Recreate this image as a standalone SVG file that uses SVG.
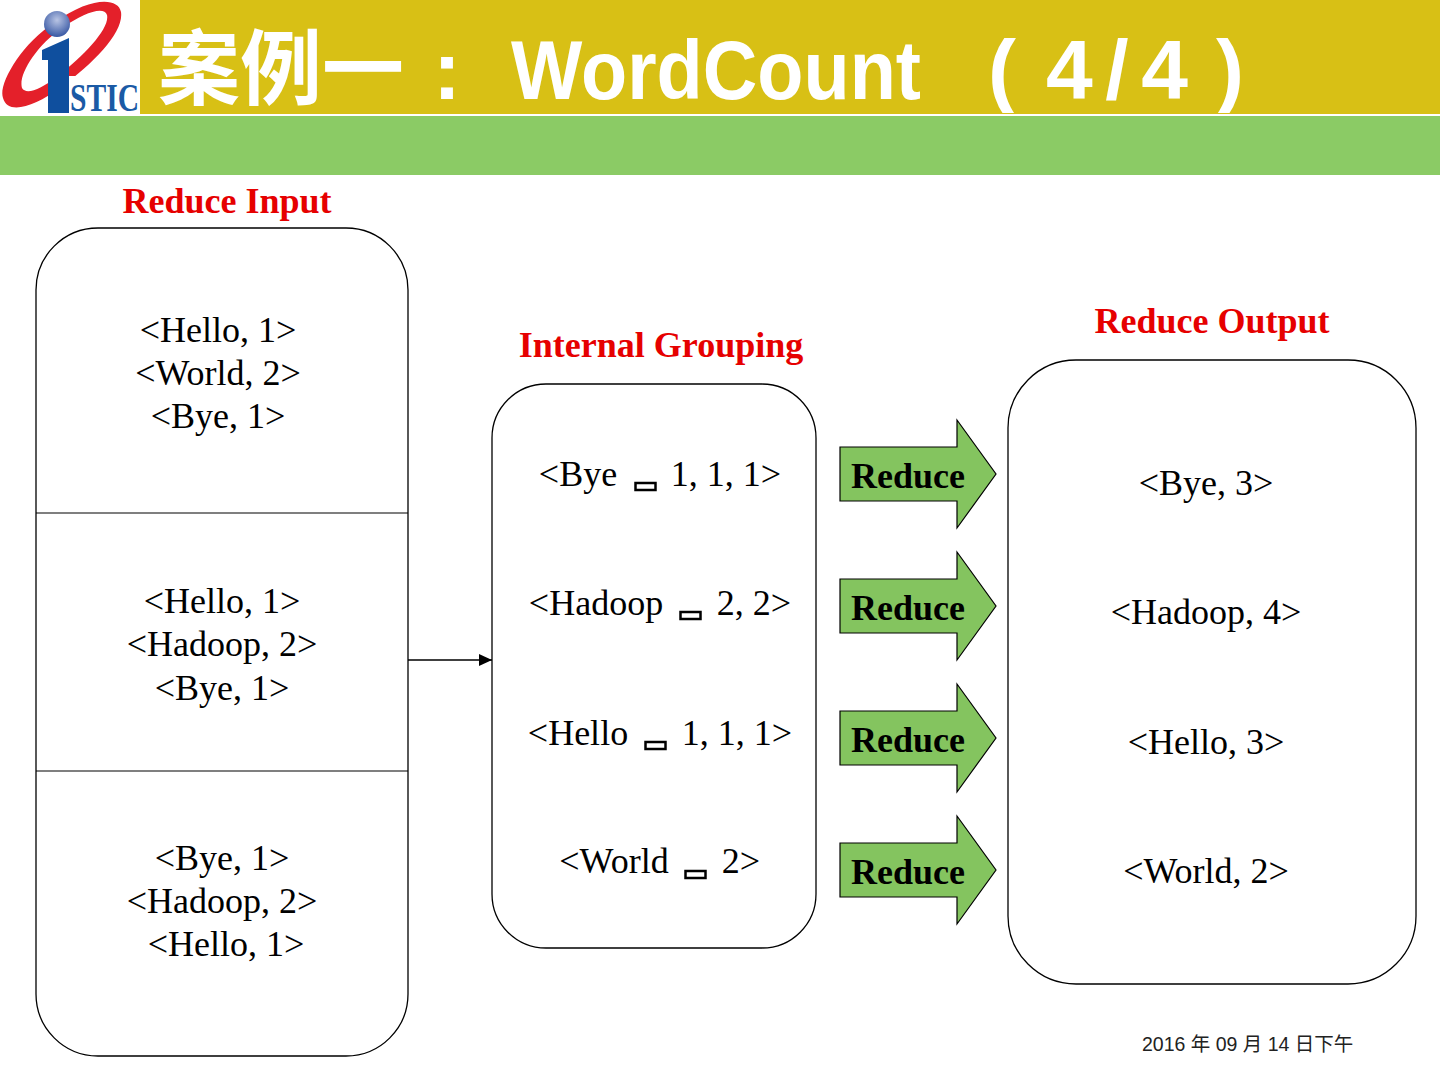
<svg xmlns="http://www.w3.org/2000/svg" width="1440" height="1080" viewBox="0 0 1440 1080">
<style>
.t{font-family:"Liberation Serif",serif;font-size:36px;fill:#000;text-anchor:middle}
.r{font-family:"Liberation Serif",serif;font-size:36px;font-weight:bold;fill:#e60000;text-anchor:middle}
.b{font-family:"Liberation Serif",serif;font-size:36px;font-weight:bold;fill:#000}
.box{fill:#fff;stroke:#000;stroke-width:1.3}
.ar{fill:#84c45f;stroke:#000;stroke-width:1.2}
.g{fill:none;stroke:#000;stroke-width:2.5}
.cj{font-family:"Noto Sans CJK SC",sans-serif;font-size:82px;font-weight:bold;fill:#fff}
.la{font-family:"Liberation Sans",sans-serif;font-size:84px;font-weight:bold;fill:#fff}
</style>
<defs>
<marker id="ah" markerWidth="14" markerHeight="12" refX="13" refY="6" orient="auto" markerUnits="userSpaceOnUse"><path d="M0 0L13 6L0 12Z" fill="#000"/></marker>
<radialGradient id="ball" cx="0.5" cy="0.35" r="0.7"><stop offset="0" stop-color="#b8c4e4"/><stop offset="1" stop-color="#2d4f9e"/></radialGradient>
<clipPath id="band"><rect x="140" y="0" width="1300" height="113"/></clipPath>
</defs>
<rect width="1440" height="1080" fill="#fff"/>
<g id="header">
<rect x="140" y="0" width="1300" height="114" fill="#d8c015"/>
<rect x="0" y="116" width="1440" height="59" fill="#8bcb65"/>
<g clip-path="url(#band)">
<text class="cj" x="158" y="98">案例一</text>
<text class="la" x="433" y="99">:</text>
<text class="la" x="511" y="99" textLength="410" lengthAdjust="spacingAndGlyphs">WordCount</text>
<text class="la" x="988" y="99">(</text>
<text class="la" x="1046" y="99" textLength="142" lengthAdjust="spacing">4/4</text>
<text class="la" x="1216" y="99">)</text>
</g>
</g>
<g id="logo">
<path fill-rule="evenodd" d="M3 98C-2 85 20 45 55 22C90 -3 118 -3 121 12C124 32 95 62 60 88C35 106 8 116 3 98ZM22 88C26 95 40 90 58 76C85 55 110 28 107 15C104 6 85 12 62 28C36 46 18 75 22 88Z" fill="#e4202a"/>
<rect x="69" y="76" width="71" height="38" fill="#fff"/>
<circle cx="57" cy="24" r="13" fill="url(#ball)"/>
<path d="M48 113V60H42V50L69 38V113Z" fill="#0f4f9e"/>
<text x="70" y="111" style="font-family:'Liberation Serif',serif;font-size:40px;font-weight:bold;fill:#1a5aa5" textLength="69" lengthAdjust="spacingAndGlyphs">STIC</text>
</g>
<g id="connectors">
<path d="M408 660H492" class="g" style="stroke-width:1.6" marker-end="url(#ah)"/>
</g>
<g id="reduce-input">
<rect x="36" y="228" width="372" height="828" rx="62" class="box"/>
<path d="M36 513H408M36 771H408" stroke="#000" stroke-width="1.2"/>
<text class="r" x="227" y="213">Reduce Input</text>
<text class="t" x="218" y="342">&lt;Hello, 1&gt;</text>
<text class="t" x="218" y="385">&lt;World, 2&gt;</text>
<text class="t" x="218" y="428">&lt;Bye, 1&gt;</text>
<text class="t" x="222" y="613">&lt;Hello, 1&gt;</text>
<text class="t" x="222" y="656">&lt;Hadoop, 2&gt;</text>
<text class="t" x="222" y="700">&lt;Bye, 1&gt;</text>
<text class="t" x="222" y="870">&lt;Bye, 1&gt;</text>
<text class="t" x="222" y="913">&lt;Hadoop, 2&gt;</text>
<text class="t" x="226" y="956">&lt;Hello, 1&gt;</text>
</g>
<g id="internal-grouping">
<rect x="492" y="384" width="324" height="564" rx="54" class="box"/>
<text class="r" x="661" y="357">Internal Grouping</text>
<text class="t" x="578" y="486">&lt;Bye</text><rect x="635.5" y="483" width="20" height="7" class="g"/><text class="t" x="726" y="486">1, 1, 1&gt;</text>
<text class="t" x="596" y="615">&lt;Hadoop</text><rect x="680.5" y="612" width="20" height="7" class="g"/><text class="t" x="754" y="615">2, 2&gt;</text>
<text class="t" x="578" y="745">&lt;Hello</text><rect x="645.5" y="742" width="20" height="7" class="g"/><text class="t" x="737" y="745">1, 1, 1&gt;</text>
<text class="t" x="614" y="873">&lt;World</text><rect x="685.5" y="871" width="20" height="7" class="g"/><text class="t" x="741" y="873">2&gt;</text>
</g>
<g id="reduce-1"><path d="M840 447H957V420L996 474L957 528V501H840Z" class="ar"/><text class="b" x="851" y="488">Reduce</text></g>
<g id="reduce-2"><path d="M840 579H957V552L996 606L957 660V633H840Z" class="ar"/><text class="b" x="851" y="620">Reduce</text></g>
<g id="reduce-3"><path d="M840 711H957V684L996 738L957 792V765H840Z" class="ar"/><text class="b" x="851" y="752">Reduce</text></g>
<g id="reduce-4"><path d="M840 843H957V816L996 870L957 924V897H840Z" class="ar"/><text class="b" x="851" y="884">Reduce</text></g>
<g id="reduce-output">
<rect x="1008" y="360" width="408" height="624" rx="68" class="box"/>
<text class="r" x="1212" y="333">Reduce Output</text>
<text class="t" x="1206" y="495">&lt;Bye, 3&gt;</text>
<text class="t" x="1206" y="624">&lt;Hadoop, 4&gt;</text>
<text class="t" x="1206" y="754">&lt;Hello, 3&gt;</text>
<text class="t" x="1206" y="883">&lt;World, 2&gt;</text>
</g>
<text x="1142" y="1051" style="font-family:'Liberation Sans','Noto Sans CJK SC',sans-serif;font-size:19.5px;fill:#222">2016 年 09 月 14 日下午</text>
</svg>
